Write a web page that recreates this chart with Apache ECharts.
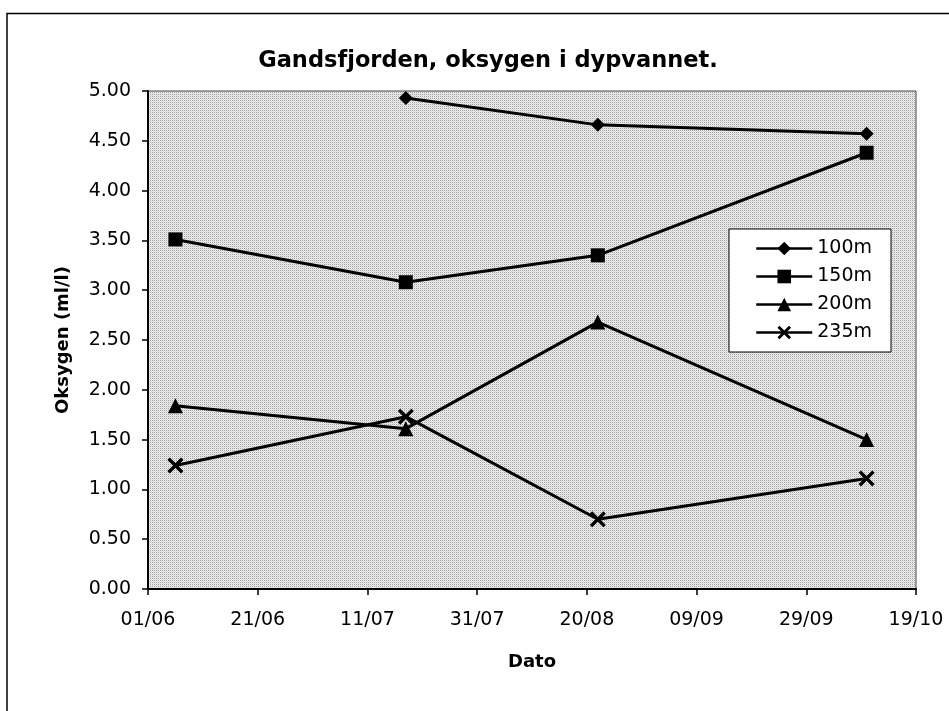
<!DOCTYPE html>
<html>
<head>
<meta charset="utf-8">
<script src="https://cdn.jsdelivr.net/npm/echarts@6/dist/echarts.min.js"></script>
<style>
html,body{margin:0;padding:0;background:#fff;}
#chart{width:949px;height:711px;}
</style>
</head>
<body>
<div id="chart"></div>
<script>
// ---- data ----
const startDate = '1995-06-01';          // axis origin (01/06)
const sampleDates = ['1995-06-06', '1995-07-18', '1995-08-22', '1995-10-10'];
const seriesNames = ['100m', '150m', '200m', '235m'];
const v100 = [null, 4.93, 4.66, 4.57];
const v150 = [3.51, 3.08, 3.35, 4.38];
const v200 = [1.84, 1.61, 2.68, 1.50];
const v235 = [1.24, 1.73, 0.70, 1.11];
const yTicks = [0, 0.5, 1, 1.5, 2, 2.5, 3, 3.5, 4, 4.5, 5];
const xTickDays = [0, 20, 40, 60, 80, 100, 120, 140];

const DAY = 86400000;
const t0 = Date.parse(startDate + 'T00:00:00Z');
function dayOf(s){ return (Date.parse(s + 'T00:00:00Z') - t0) / DAY; }
function pad(n){ return (n < 10 ? '0' : '') + n; }
function dayLabel(d){ const dt = new Date(t0 + d * DAY); return pad(dt.getUTCDate()) + '/' + pad(dt.getUTCMonth() + 1); }
function pairs(vals){ const out = []; vals.forEach((v,i)=>{ if (v !== null) out.push([dayOf(sampleDates[i]), v]); }); return out; }

// stipple pattern for the plot background
const pc = document.createElement('canvas');
pc.width = 2; pc.height = 2;
const pctx = pc.getContext('2d');
pctx.fillStyle = '#efefef'; pctx.fillRect(0,0,2,2);
pctx.fillStyle = '#a0a0a0'; pctx.fillRect(0,0,1,1);
pctx.fillStyle = '#d8d8d8'; pctx.fillRect(1,1,1,1);

const FONT = 'DejaVu Sans, sans-serif';
const xSym = 'path://M0,1.5 L1.5,0 L5,3.5 L8.5,0 L10,1.5 L6.5,5 L10,8.5 L8.5,10 L5,6.5 L1.5,10 L0,8.5 L3.5,5 Z';
const symbols = ['diamond', 'rect', 'triangle', xSym];
const sizes = [14, 14, 15, 16];
const allVals = [v100, v150, v200, v235];

const chart = echarts.init(document.getElementById('chart'), null, {renderer: 'canvas'});
chart.setOption({
  animation: false,
  backgroundColor: '#fff',
  title: {
    text: 'Gandsfjorden, oksygen i dypvannet.',
    left: 483, top: 45, textAlign: 'center',
    textStyle: {fontFamily: FONT, fontWeight: 'bold', fontSize: 22.5, color: '#000'}
  },
  graphic: [{
    type: 'rect', z: -10,
    shape: {x: 7, y: 13.5, width: 1200, height: 1200},
    style: {fill: 'none', stroke: '#000', lineWidth: 1.5}
  }],
  legend: {
    orient: 'vertical',
    left: 729, top: 229,
    data: seriesNames,
    itemWidth: 56, itemHeight: 17, itemGap: 9,
    padding: [10, 19, 10, 26],
    backgroundColor: '#fff',
    borderColor: '#000', borderWidth: 1,
    lineStyle: {width: 2.5},
    textStyle: {fontFamily: FONT, fontSize: 19, color: '#000'}
  },
  grid: {
    left: 148, right: 33, top: 91, bottom: 122,
    show: true,
    backgroundColor: {image: pc, repeat: 'repeat'},
    borderColor: '#444', borderWidth: 1
  },
  xAxis: {
    type: 'value', min: 0, max: 140, interval: 20,
    name: 'Dato', nameLocation: 'middle', nameGap: 64,
    nameTextStyle: {fontFamily: FONT, fontWeight: 'bold', fontSize: 18, color: '#000'},
    axisLine: {show: true, lineStyle: {color: '#000', width: 2}},
    axisTick: {show: true, length: 6, lineStyle: {color: '#000', width: 1.5}},
    splitLine: {show: false},
    axisLabel: {
      margin: 22, color: '#000', fontFamily: FONT, fontSize: 19,
      formatter: function(v){ return xTickDays.indexOf(v) >= 0 ? dayLabel(v) : ''; }
    }
  },
  yAxis: {
    type: 'value', min: yTicks[0], max: yTicks[yTicks.length-1], interval: 0.5,
    name: 'Oksygen (ml/l)', nameLocation: 'middle', nameGap: 76, nameRotate: 90,
    nameTextStyle: {fontFamily: FONT, fontWeight: 'bold', fontSize: 18, color: '#000'},
    axisLine: {show: true, lineStyle: {color: '#000', width: 2}},
    axisTick: {show: true, length: 6, lineStyle: {color: '#000', width: 1.5}},
    splitLine: {show: false},
    axisLabel: {
      margin: 17, color: '#000', fontFamily: FONT, fontSize: 19,
      formatter: function(v){ return v.toFixed(2); }
    }
  },
  series: seriesNames.map((n, i) => ({
    name: n, type: 'line',
    data: pairs(allVals[i]),
    symbol: symbols[i], symbolSize: sizes[i],
    showAllSymbol: true,
    lineStyle: {color: '#000', width: 3},
    itemStyle: {color: '#000', borderColor: '#000', borderWidth: 0},
    emphasis: {disabled: true}
  }))
});
</script>
</body>
</html>
